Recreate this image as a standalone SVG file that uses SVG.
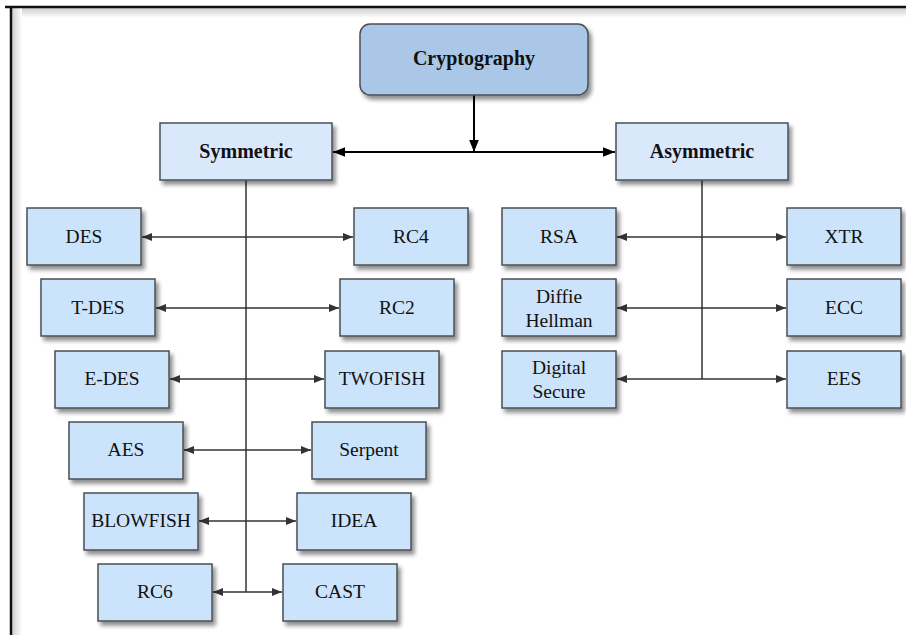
<svg xmlns="http://www.w3.org/2000/svg" width="906" height="635" viewBox="0 0 906 635">
<defs>
<filter id="sh" x="-20%" y="-20%" width="150%" height="160%">
<feGaussianBlur in="SourceAlpha" stdDeviation="2.2"/>
<feOffset dx="3" dy="4" result="b"/>
<feComponentTransfer><feFuncA type="linear" slope="0.45"/></feComponentTransfer>
<feMerge><feMergeNode/><feMergeNode in="SourceGraphic"/></feMerge>
</filter>
<linearGradient id="gt" x1="0" y1="0" x2="0" y2="1"><stop offset="0" stop-color="#cfcfcf"/><stop offset="1" stop-color="#ffffff"/></linearGradient>
<linearGradient id="gl" x1="0" y1="0" x2="1" y2="0"><stop offset="0" stop-color="#cfcfcf"/><stop offset="1" stop-color="#ffffff"/></linearGradient>
<marker id="ah" viewBox="0 0 10 10" refX="10" refY="5" markerWidth="10" markerHeight="10" markerUnits="userSpaceOnUse" orient="auto-start-reverse">
<path d="M0,1 L10,5 L0,9 Z" fill="#333"/>
</marker>
<marker id="ahb" viewBox="0 0 10 10" refX="10" refY="5" markerWidth="12" markerHeight="12" markerUnits="userSpaceOnUse" orient="auto-start-reverse">
<path d="M0,1 L10,5 L0,9 Z" fill="#000"/>
</marker>
</defs>
<style>
.box{fill:#cbe3fb;stroke:#4a4f55;stroke-width:1.5;filter:url(#sh)}
.mid{fill:#dae8fc;stroke:#4a4f55;stroke-width:1.5;filter:url(#sh)}
.top{fill:#aac7e8;stroke:#4a4f55;stroke-width:1.5;filter:url(#sh)}
.t{font-family:"Liberation Serif",serif;font-size:19.5px;fill:#111;text-anchor:middle;dominant-baseline:central}
.b{font-weight:bold;font-size:20px}
.c{stroke:#333;stroke-width:1.5;fill:none}
.cb{stroke:#000;stroke-width:2;fill:none}
</style>
<rect x="0" y="0" width="906" height="635" fill="#fff"/>
<rect x="12" y="8" width="894" height="10" fill="url(#gt)"/>
<rect x="12" y="8" width="10" height="627" fill="url(#gl)"/>
<line x1="5" y1="7" x2="906" y2="7" stroke="#111" stroke-width="2.5"/>
<line x1="11" y1="6" x2="11" y2="635" stroke="#111" stroke-width="2.5"/>

<g id="connectors">
<line class="cb" x1="474" y1="95" x2="474" y2="152" marker-end="url(#ahb)"/>
<line class="cb" x1="333" y1="152" x2="615" y2="152" marker-start="url(#ahb)" marker-end="url(#ahb)"/>
<line class="c" x1="246" y1="180" x2="246" y2="592"/>
<line class="c" x1="702" y1="180" x2="702" y2="379"/>
<line class="c" x1="142" y1="237" x2="353" y2="237" marker-start="url(#ah)" marker-end="url(#ah)"/>
<line class="c" x1="156" y1="308" x2="339" y2="308" marker-start="url(#ah)" marker-end="url(#ah)"/>
<line class="c" x1="170" y1="379" x2="324" y2="379" marker-start="url(#ah)" marker-end="url(#ah)"/>
<line class="c" x1="184" y1="450" x2="311" y2="450" marker-start="url(#ah)" marker-end="url(#ah)"/>
<line class="c" x1="199" y1="521" x2="296" y2="521" marker-start="url(#ah)" marker-end="url(#ah)"/>
<line class="c" x1="213" y1="592" x2="282" y2="592" marker-start="url(#ah)" marker-end="url(#ah)"/>
<line class="c" x1="617" y1="237" x2="786" y2="237" marker-start="url(#ah)" marker-end="url(#ah)"/>
<line class="c" x1="617" y1="308" x2="786" y2="308" marker-start="url(#ah)" marker-end="url(#ah)"/>
<line class="c" x1="617" y1="379" x2="786" y2="379" marker-start="url(#ah)" marker-end="url(#ah)"/>
</g>

<g id="cryptography"><rect class="top" x="360" y="24" width="228" height="71" rx="10"/><text class="t b" x="474" y="58">Cryptography</text></g>
<g id="symmetric"><rect class="mid" x="160" y="123" width="172" height="57"/><text class="t b" x="246" y="151">Symmetric</text></g>
<g id="asymmetric"><rect class="mid" x="616" y="123" width="172" height="57"/><text class="t b" x="702" y="151">Asymmetric</text></g>

<g id="des"><rect class="box" x="27" y="208" width="114" height="57"/><text class="t" x="84" y="236">DES</text></g>
<g id="rc4"><rect class="box" x="354" y="208" width="114" height="57"/><text class="t" x="411" y="236">RC4</text></g>
<g id="tdes"><rect class="box" x="41" y="279" width="114" height="57"/><text class="t" x="98" y="307">T-DES</text></g>
<g id="rc2"><rect class="box" x="340" y="279" width="114" height="57"/><text class="t" x="397" y="307">RC2</text></g>
<g id="edes"><rect class="box" x="55" y="351" width="114" height="57"/><text class="t" x="112" y="378">E-DES</text></g>
<g id="twofish"><rect class="box" x="325" y="351" width="114" height="57"/><text class="t" x="382" y="378">TWOFISH</text></g>
<g id="aes"><rect class="box" x="69" y="422" width="114" height="57"/><text class="t" x="126" y="449">AES</text></g>
<g id="serpent"><rect class="box" x="312" y="422" width="114" height="57"/><text class="t" x="369" y="449">Serpent</text></g>
<g id="blowfish"><rect class="box" x="84" y="493" width="114" height="57"/><text class="t" x="141" y="520">BLOWFISH</text></g>
<g id="idea"><rect class="box" x="297" y="493" width="114" height="57"/><text class="t" x="354" y="520">IDEA</text></g>
<g id="rc6"><rect class="box" x="98" y="564" width="114" height="57"/><text class="t" x="155" y="591">RC6</text></g>
<g id="cast"><rect class="box" x="283" y="564" width="114" height="57"/><text class="t" x="340" y="591">CAST</text></g>

<g id="rsa"><rect class="box" x="502" y="208" width="114" height="57"/><text class="t" x="559" y="236">RSA</text></g>
<g id="xtr"><rect class="box" x="787" y="208" width="114" height="57"/><text class="t" x="844" y="236">XTR</text></g>
<g id="diffie"><rect class="box" x="502" y="279" width="114" height="57"/><text class="t" x="559" y="296">Diffie</text><text class="t" x="559" y="320">Hellman</text></g>
<g id="ecc"><rect class="box" x="787" y="279" width="114" height="57"/><text class="t" x="844" y="307">ECC</text></g>
<g id="digital"><rect class="box" x="502" y="351" width="114" height="57"/><text class="t" x="559" y="367">Digital</text><text class="t" x="559" y="391">Secure</text></g>
<g id="ees"><rect class="box" x="787" y="351" width="114" height="57"/><text class="t" x="844" y="378">EES</text></g>
</svg>
